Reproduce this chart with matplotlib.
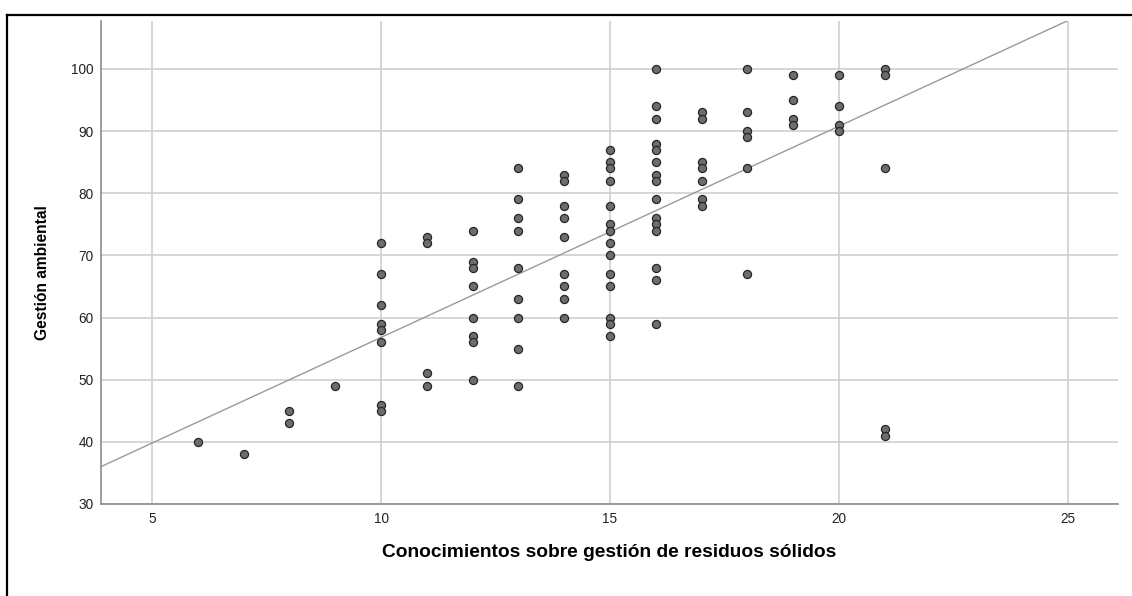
import numpy as np
import matplotlib
matplotlib.use("Agg")
import matplotlib.pyplot as plt
from matplotlib.lines import Line2D

# Knowledge score (x) and environmental management score (y), one group per x value
knowledge = [6, 7, 8, 9, 10, 11, 12, 13, 14, 15, 16, 17, 18, 19, 20, 21]
management = [
    [40],
    [38],
    [45, 43],
    [49],
    [72, 67, 62, 59, 58, 56, 46, 45],
    [73, 72, 51, 49],
    [74, 69, 68, 65, 60, 57, 56, 50],
    [84, 79, 76, 74, 68, 63, 60, 55, 49],
    [83, 82, 78, 76, 73, 67, 65, 63, 60],
    [87, 85, 84, 82, 78, 75, 74, 72, 70, 67, 65, 60, 59, 57],
    [100, 94, 92, 88, 87, 85, 83, 82, 79, 76, 75, 74, 68, 66, 59],
    [93, 92, 85, 84, 82, 79, 78],
    [100, 93, 90, 89, 84, 67],
    [99, 95, 92, 91],
    [99, 94, 91, 90],
    [100, 99, 84, 42, 41],
]

x_ticks = [5, 10, 15, 20, 25]
y_ticks = [30, 40, 50, 60, 70, 80, 90, 100]

x_label = "Conocimientos sobre gestión de residuos sólidos"
y_label = "Gestión ambiental"

# Fit line (total) intercept and slope
fit_intercept = 22.8
fit_slope = 3.4

x_vals = np.concatenate([[k] * len(v) for k, v in zip(knowledge, management)])
y_vals = np.concatenate([np.array(v, dtype=float) for v in management])

plt.rcParams["font.family"] = ["Liberation Sans", "DejaVu Sans"]

fig = plt.figure(figsize=(11.32, 5.96), dpi=100)
ax = fig.add_axes([0.0890, 0.1544, 0.8986, 0.8112])

xlim = (3.88, 26.09)
ylim = (30, 107.8)
ax.set_xlim(*xlim)
ax.set_ylim(*ylim)

ax.set_xticks(x_ticks)
ax.set_yticks(y_ticks)
ax.grid(True, color="#cfcfcf", linewidth=1.2)
ax.set_axisbelow(True)

for side in ("top", "right"):
    ax.spines[side].set_visible(False)
for side in ("left", "bottom"):
    ax.spines[side].set_color("#8c8c8c")
    ax.spines[side].set_linewidth(1.2)

ax.tick_params(length=0, labelsize=9.8, labelcolor="#222222")
ax.tick_params(axis="y", pad=5)
ax.tick_params(axis="x", pad=6)

# Fit line clipped to the plotting area
xl = np.linspace(xlim[0], xlim[1], 200)
yl = fit_intercept + fit_slope * xl
ax.plot(xl, yl, color="#9a9a9a", linewidth=1.0, zorder=2)

ax.scatter(x_vals, y_vals, s=34, facecolor="#6d6d6d", edgecolor="#262626",
           linewidth=0.9, zorder=3, clip_on=False)

ax.set_xlabel(x_label, fontsize=13.8, fontweight="bold", labelpad=13)
ax.set_ylabel(y_label, fontsize=11.2, fontweight="bold")
ax.yaxis.set_label_coords(-0.050, 0.479)

# Frame lines along the left and top edges of the figure
fig.add_artist(Line2D([0.0062, 0.0062], [0.0, 0.975], transform=fig.transFigure,
                      color="black", linewidth=1.6))
fig.add_artist(Line2D([0.0062, 1.0], [0.975, 0.975], transform=fig.transFigure,
                      color="black", linewidth=1.6))

fig.savefig("out.png", dpi=100)
